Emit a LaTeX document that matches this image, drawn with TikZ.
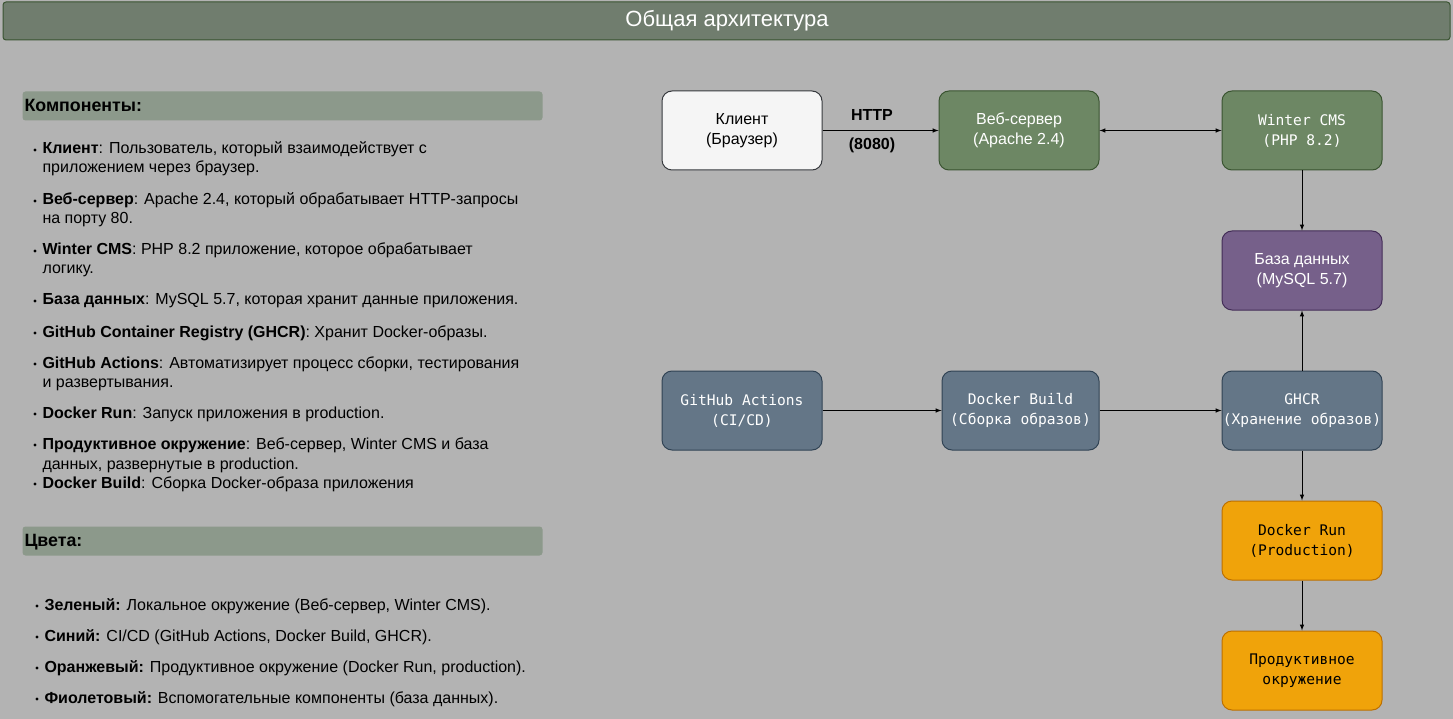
\documentclass[tikz,border=0pt]{standalone}
\usepackage{fontspec}
\setmainfont{Liberation Sans}
\newfontfamily\codefont{DejaVu Sans Mono}
\definecolor{bggray}{HTML}{B3B3B3}
\definecolor{titlefill}{HTML}{707D6E}
\definecolor{titleline}{HTML}{3A5431}
\definecolor{headfill}{HTML}{8C998B}
\definecolor{clientfill}{HTML}{F5F5F5}
\definecolor{clientline}{HTML}{36393D}
\definecolor{greenfill}{HTML}{6D8764}
\definecolor{greenline}{HTML}{3A5431}
\definecolor{bluefill}{HTML}{647687}
\definecolor{blueline}{HTML}{314354}
\definecolor{violetfill}{HTML}{76608A}
\definecolor{violetline}{HTML}{432D57}
\definecolor{orangefill}{HTML}{F0A30A}
\definecolor{orangeline}{HTML}{BD7000}
\tikzset{
  box/.style={draw,line width=1pt,rounded corners=10pt,minimum width=160pt,minimum height=79pt,
    align=center,inner sep=0,font=\fontsize{16}{20}\selectfont},
  client/.style={box,fill=clientfill,draw=clientline},
  localbox/.style={box,fill=greenfill,draw=greenline,text=white},
  codebox/.style={box,font=\codefont\fontsize{14.6}{20}\selectfont},
  cibox/.style={codebox,fill=bluefill,draw=blueline,text=white},
  prodbox/.style={codebox,fill=orangefill,draw=orangeline},
  dbbox/.style={box,fill=violetfill,draw=violetline,text=white},
  head/.style={draw=none,fill=headfill,rounded corners=3pt,minimum width=520pt,minimum height=29pt,
    anchor=north west,inner sep=0},
  headtext/.style={anchor=base west,inner sep=0,font=\bfseries\fontsize{17.8}{20}\selectfont},
  line/.style={anchor=base west,inner sep=0,font=\fontsize{16}{19}\selectfont},
  arrowlabel/.style={font=\bfseries\fontsize{16}{19}\selectfont},
}
\begin{document}
\begin{tikzpicture}[x=1pt,y=-1pt,arrows=-latex,line width=1pt]
	\useasboundingbox (0,0) rectangle (1453,719);
	\fill[bggray] (0,0) rectangle (1453,719);
	% title
	\draw[fill=titlefill,draw=titleline,rounded corners=3pt] (3,2) rectangle (1450,40);
	\node[text=white,font=\fontsize{22}{24}\selectfont] (title) at (727,21) {Общая архитектура};
	% legend
	\node[head] (comp) at (22,91) {};
	\node[headtext] (compt) at (24,111.5) {Компоненты:};
	\foreach \i/\y/\txt in {
		1/154/{\textbf{Клиент}: Пользователь, который взаимодействует с},
		2/173/{приложением через браузер.},
		3/205/{\textbf{Веб-сервер}: Apache 2.4, который обрабатывает HTTP-запросы},
		4/224/{на порту 80.},
		5/255/{\textbf{Winter CMS}: PHP 8.2 приложение, которое обрабатывает},
		6/274/{логику.},
		7/305/{\textbf{База данных}: MySQL 5.7, которая хранит данные приложения.},
		8/337/{\textbf{GitHub Container Registry (GHCR)}: Хранит Docker-образы.},
		9/368/{\textbf{GitHub Actions}: Автоматизирует процесс сборки, тестирования},
		10/387/{и развертывания.},
		11/418/{\textbf{Docker Run}: Запуск приложения в production.},
		12/449/{\textbf{Продуктивное окружение}: Веб-сервер, Winter CMS и база},
		13/469/{данных, развернутые в production.},
		14/488/{\textbf{Docker Build}: Сборка Docker-образа приложения}}
		\node[line] (l\i) at (42,\y) {\txt};
	\foreach \y in {154,205,255,305,337,368,418,449,488}
		\fill (35,\y-4) circle(1.6);
	\node[head] (cols) at (22,526) {};
	\node[headtext] (colst) at (24,546.5) {Цвета:};
	\foreach \i/\y/\txt in {
		1/610/{\textbf{Зеленый:} Локальное окружение (Веб-сервер, Winter CMS).},
		2/641/{\textbf{Синий:} CI/CD (GitHub Actions, Docker Build, GHCR).},
		3/672/{\textbf{Оранжевый:} Продуктивное окружение (Docker Run, production).},
		4/703/{\textbf{Фиолетовый:} Вспомогательные компоненты (база данных).}}
		\node[line] (c\i) at (44,\y) {\txt};
	\foreach \y in {610,641,672,703}
		\fill (37,\y-4) circle(1.6);
	% diagram
	\node[client] (cl) at (742,130.5) {Клиент\\(Браузер)};
	\node[localbox] (web) at (1019,130.5) {Веб-сервер\\(Apache 2.4)};
	\node[localbox,font=\codefont\fontsize{14.6}{20}\selectfont] (cms) at (1302,130.5) {Winter CMS\\(PHP 8.2)};
	\node[dbbox] (db) at (1302,270.5) {База данных\\(MySQL 5.7)};
	\node[cibox] (gha) at (742,410.5) {GitHub Actions\\(CI/CD)};
	\node[cibox,minimum width=157pt] (build) at (1020.5,410.5) {Docker Build\\(Сборка образов)};
	\node[cibox] (ghcr) at (1302,410.5) {GHCR\\(Хранение образов)};
	\node[prodbox] (run) at (1302,540.5) {Docker Run\\(Production)};
	\node[prodbox] (prod) at (1302,670.5) {Продуктивное\\окружение};
	\draw (cl)--(web);
	\node[arrowlabel] (http) at (872,115) {HTTP};
	\node[arrowlabel] (port) at (872,145) {(8080)};
	\draw[latex-latex] (web)--(cms);
	\draw (cms)--(db);
	\draw (gha)--(build);
	\draw (build)--(ghcr);
	\draw (ghcr)--(db);
	\draw (ghcr)--(run);
	\draw (run)--(prod);
\end{tikzpicture}
\end{document}
